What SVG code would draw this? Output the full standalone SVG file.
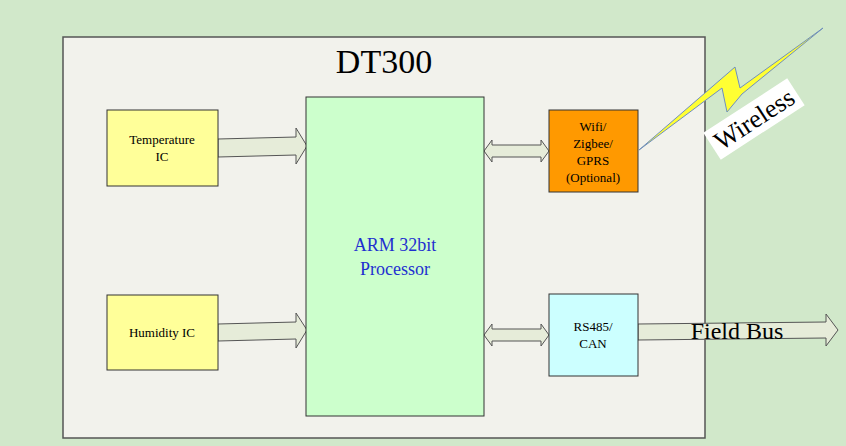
<svg xmlns="http://www.w3.org/2000/svg" width="846" height="446" viewBox="0 0 846 446">
<style>
.t{font-family:"Liberation Serif",serif;fill:#000;text-anchor:middle}
.box{stroke:#333;stroke-width:1}
.arr{fill:#e6ecd9;stroke:#555;stroke-width:1}
</style>
<rect width="846" height="446" fill="#d1e8ca"/>
<g id="main"><rect x="63" y="37" width="642" height="401" fill="#f2f2ec" stroke="#555" stroke-width="1.5"/>
<text class="t" x="384" y="73" font-size="34">DT300</text></g>
<g id="connectors">
<polygon class="arr" points="218,139 296,137 296,128 307,146 296,164 296,155 218,157"/>
<polygon class="arr" points="218,324 296,322 296,313 307,330 296,348 296,339 218,341"/>
<polygon class="arr" points="484,151 492,140 492,145 541,145 541,140 549,151 541,162 541,157 492,157 492,162"/>
<polygon class="arr" points="484,335 492,324 492,329 541,329 541,324 549,335 541,346 541,341 492,341 492,346"/>
<polygon class="arr" points="638,324 826,322 826,314 838,330 826,346 826,338 638,340"/>
<text class="t" x="737" y="339" font-size="24">Field Bus</text>
<polygon points="639,150 735,67 740,88 823,28 742,94 727,112 722,88" fill="#ffff33" stroke="#6f8fbf" stroke-width="1"/>
<g transform="translate(754,119) rotate(-33)"><rect x="-50" y="-16" width="100" height="32" fill="#fff"/><text class="t" x="0" y="9" font-size="26">Wireless</text></g>
</g>
<g id="temp"><rect class="box" x="107" y="110" width="111" height="76" fill="#ffff99"/><text class="t" x="162" y="144" font-size="13">Temperature</text><text class="t" x="162" y="161" font-size="13">IC</text></g>
<g id="hum"><rect class="box" x="107" y="295" width="111" height="75" fill="#ffff99"/><text class="t" x="162" y="337" font-size="13">Humidity IC</text></g>
<g id="arm"><rect class="box" x="306" y="97" width="178" height="319" fill="#ccffcc"/><text class="t" x="395" y="251" font-size="18" fill="#1f2fd0" style="fill:#1f2fd0">ARM 32bit</text><text class="t" x="395" y="275" font-size="18" style="fill:#1f2fd0">Processor</text></g>
<g id="wifi"><rect class="box" x="549" y="110" width="89" height="82" fill="#ff9900"/><text class="t" x="593" y="131" font-size="13">Wifi/</text><text class="t" x="593" y="148" font-size="13">Zigbee/</text><text class="t" x="593" y="165" font-size="13">GPRS</text><text class="t" x="593" y="182" font-size="13">(Optional)</text></g>
<g id="rs485"><rect class="box" x="549" y="294" width="89" height="82" fill="#ccffff"/><text class="t" x="593" y="331" font-size="13">RS485/</text><text class="t" x="593" y="348" font-size="13">CAN</text></g>
</svg>
